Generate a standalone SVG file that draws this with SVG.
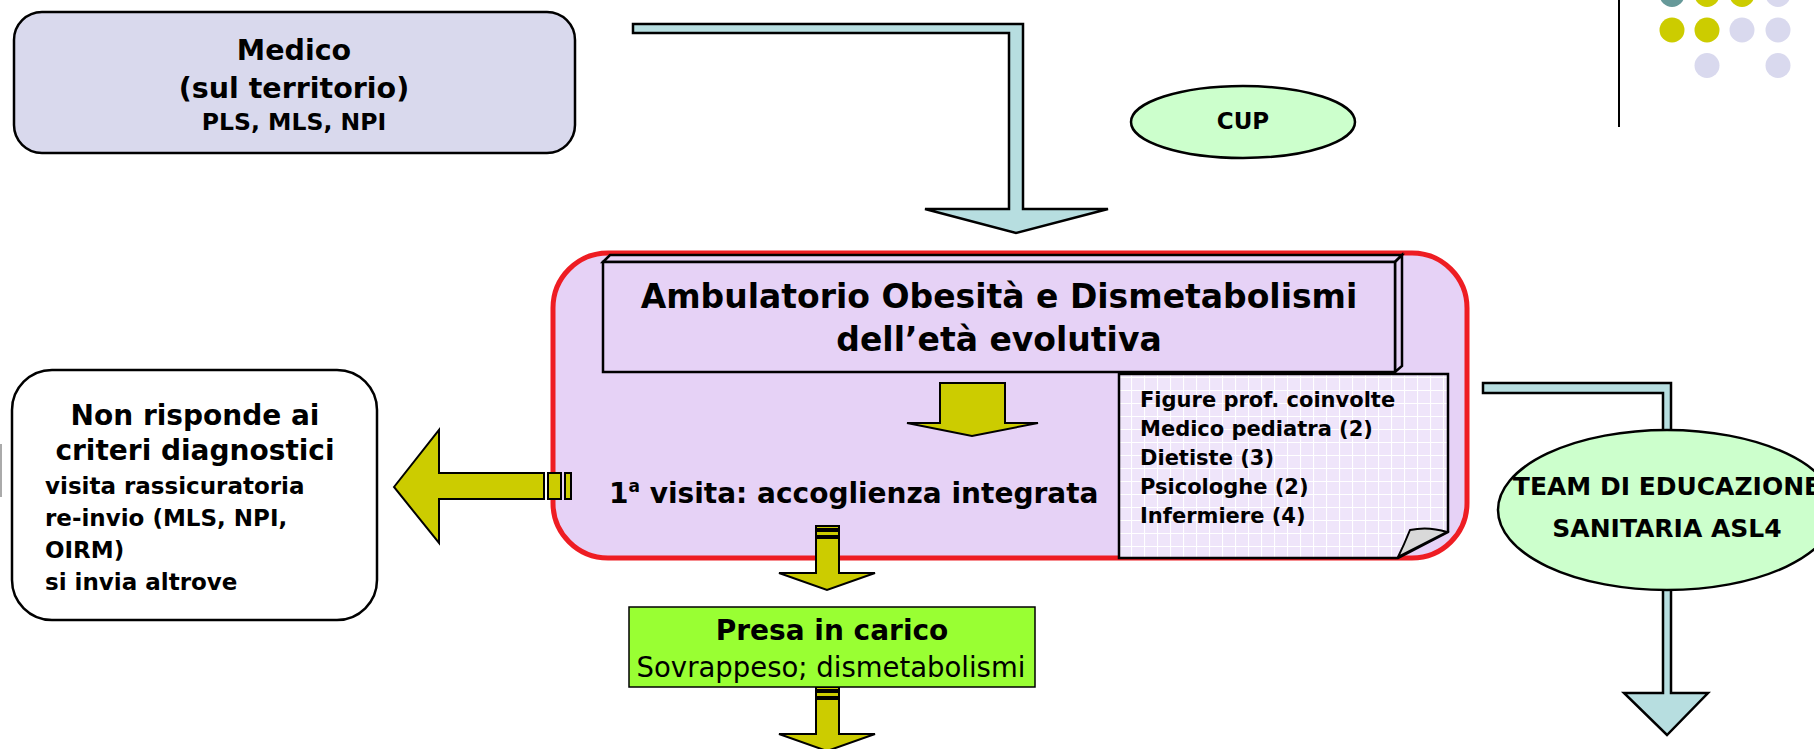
<svg xmlns="http://www.w3.org/2000/svg" width="1814" height="749" viewBox="0 0 1814 749">
<style>
.b{font-family:"DejaVu Sans","Liberation Sans",sans-serif;font-weight:bold;fill:#000}
.r{font-family:"DejaVu Sans","Liberation Sans",sans-serif;font-weight:normal;fill:#000}
.c{text-anchor:middle}
.blue{fill:#B7DEE0;stroke:#000;stroke-width:2.5;stroke-linejoin:miter}
.yel{fill:#CCCC00;stroke:#000;stroke-width:2}
.ell{fill:#CCFFCC;stroke:#000;stroke-width:2.5}
.pur{fill:#E6D2F6;stroke:#000;stroke-width:2.5}
</style>
<defs>
<pattern id="grid" width="13" height="13" patternUnits="userSpaceOnUse">
<rect width="13" height="13" fill="#EFE5FA"/>
<path d="M0 0.5H13M0.5 0V13" stroke="#FFFFFF" stroke-width="1.2" fill="none"/>
</pattern>
</defs>
<rect width="1814" height="749" fill="#FFFFFF"/>

<g id="decor">
<line x1="1619" y1="0" x2="1619" y2="127" stroke="#000" stroke-width="2"/>
<circle cx="1672" cy="-5.5" r="12.5" fill="#669999"/>
<circle cx="1707" cy="-5.5" r="12.5" fill="#CCCC00"/>
<circle cx="1742" cy="-5.5" r="12.5" fill="#CCCC00"/>
<circle cx="1778" cy="-5.5" r="12.5" fill="#D9D9EE"/>
<circle cx="1672" cy="30" r="12.5" fill="#CCCC00"/>
<circle cx="1707" cy="30" r="12.5" fill="#CCCC00"/>
<circle cx="1742" cy="30" r="12.5" fill="#D9D9EE"/>
<circle cx="1778" cy="30" r="12.5" fill="#D9D9EE"/>
<circle cx="1707" cy="65.5" r="12.5" fill="#D9D9EE"/>
<circle cx="1778" cy="65.5" r="12.5" fill="#D9D9EE"/>
<line x1="1" y1="444" x2="1" y2="497" stroke="#AAAAAA" stroke-width="2"/>
</g>

<g id="medico">
<rect x="14" y="12" width="561" height="141" rx="28" fill="#D9D9ED" stroke="#000" stroke-width="2.5"/>
<text class="b c" x="294" y="60" font-size="28.5">Medico</text>
<text class="b c" x="294" y="98" font-size="28.5">(sul territorio)</text>
<text class="b c" x="294" y="130" font-size="23.5">PLS, MLS, NPI</text>
</g>

<g id="ambulatorio">
<rect x="553" y="253" width="914" height="305" rx="55" fill="#E6D2F6" stroke="#EE1D23" stroke-width="5"/>
<g id="titolo">
<polygon class="pur" points="603,262 610,255 1402,255 1395,262"/>
<polygon class="pur" points="1395,262 1402,255 1402,366 1395,372"/>
<rect class="pur" x="603" y="262" width="792" height="110"/>
<text class="b c" x="999" y="308" font-size="33">Ambulatorio Obesità e Dismetabolismi</text>
<text class="b c" x="999" y="351" font-size="33">dell’età evolutiva</text>
</g>
<g id="figure">
<path d="M1119,374 H1448 V532 L1398,558 H1119 Z" fill="url(#grid)" stroke="#000" stroke-width="2.5"/>
<path d="M1447,532 Q1428,526 1410,530 Q1404,545 1398,557 Z" fill="#D9D9D9" stroke="#000" stroke-width="2"/>
<text class="b" x="1140" y="407" font-size="21">Figure prof. coinvolte</text>
<text class="b" x="1140" y="436" font-size="21">Medico pediatra (2)</text>
<text class="b" x="1140" y="465" font-size="21">Dietiste (3)</text>
<text class="b" x="1140" y="494" font-size="21">Psicologhe (2)</text>
<text class="b" x="1140" y="523" font-size="21">Infermiere (4)</text>
</g>
<text id="visita" class="b" x="609" y="503" font-size="28">1<tspan font-size="17" dy="-11">a</tspan><tspan dy="11"> visita: accoglienza integrata</tspan></text>
</g>

<g id="connectors">
<polygon class="blue" points="633,24 1023,24 1023,209 1108,209 1016,233 925,209 1009,209 1009,33 633,33"/>
<polygon class="blue" points="1483,383 1671,383 1671,693 1708,693 1667,735 1624,693 1663,693 1663,393 1483,393"/>
<polygon class="yel" points="940,383 1005,383 1005,423 1038,423 972,436 907,423 940,423"/>
<polygon class="yel" points="394,487 439,430 439,473 544,473 544,499 439,499 439,543"/>
<rect class="yel" x="548" y="473" width="13" height="26"/>
<rect class="yel" x="565" y="473" width="6" height="26"/>
<rect class="yel" x="816" y="526" width="23" height="3"/>
<rect class="yel" x="816" y="531" width="23" height="5"/>
<polygon class="yel" points="816,538 839,538 839,573 875,573 827,590 779,573 816,573"/>
<rect class="yel" x="816" y="687" width="23" height="3"/>
<rect class="yel" x="816" y="692" width="23" height="5"/>
<polygon class="yel" points="816,699 839,699 839,734 875,734 827,751 779,734 816,734"/>
</g>

<g id="cup">
<ellipse class="ell" cx="1243" cy="122" rx="112" ry="36"/>
<text class="b c" x="1243" y="129" font-size="23">CUP</text>
</g>

<g id="team">
<ellipse class="ell" cx="1667" cy="510" rx="169" ry="80"/>
<text class="b c" x="1667" y="495" font-size="25">TEAM DI EDUCAZIONE</text>
<text class="b c" x="1667" y="537" font-size="25">SANITARIA ASL4</text>
</g>

<g id="presa">
<rect x="629" y="607" width="406" height="80" fill="#99FF33" stroke="#000" stroke-width="1.5"/>
<text class="b c" x="832" y="640" font-size="28">Presa in carico</text>
<text class="r c" x="831" y="677" font-size="27.5">Sovrappeso; dismetabolismi</text>
</g>

<g id="non-risponde">
<rect x="12" y="370" width="365" height="250" rx="40" fill="#FFFFFF" stroke="#000" stroke-width="2.5"/>
<text class="b c" x="195" y="425" font-size="28">Non risponde ai</text>
<text class="b c" x="195" y="460" font-size="28">criteri diagnostici</text>
<text class="b" x="45" y="494" font-size="23">visita rassicuratoria</text>
<text class="b" x="45" y="526" font-size="23">re-invio (MLS, NPI,</text>
<text class="b" x="45" y="558" font-size="23">OIRM)</text>
<text class="b" x="45" y="590" font-size="23">si invia altrove</text>
</g>
</svg>
